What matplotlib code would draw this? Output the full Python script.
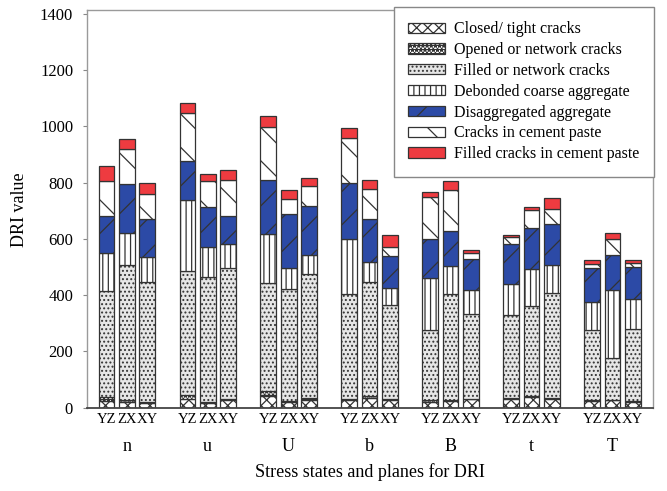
import numpy as np
import matplotlib
matplotlib.use("Agg")
import matplotlib.pyplot as plt

plt.rcParams['font.family'] = ['Liberation Serif', 'DejaVu Serif']
plt.rcParams['hatch.linewidth'] = 0.9

states = ["n", "u", "U", "b", "B", "t", "T"]
planes = ["YZ", "ZX", "XY"]

# values per bar, order: n YZ, n ZX, n XY, u YZ, ...
closed = [22, 20, 15, 30, 16, 26, 42, 18, 28, 26, 34, 28, 20, 22, 30, 32, 36, 32, 22, 26, 20]
opened = [16, 6, 5, 14, 4, 6, 16, 4, 6, 4, 6, 4, 6, 4, 2, 2, 4, 2, 4, 2, 2]
filled = [377, 480, 427, 442, 445, 466, 386, 398, 440, 373, 406, 332,
          249, 377, 302, 294, 320, 374, 249, 149, 259]
debonded = [135, 113, 89, 252, 107, 83, 173, 77, 67, 195, 70, 62,
            184, 101, 83, 113, 131, 98, 101, 240, 104]
disagg = [132, 176, 133, 138, 140, 101, 194, 190, 175, 201, 154, 112,
          139, 125, 113, 142, 147, 146, 121, 125, 115]
cracks = [124, 126, 90, 170, 94, 127, 188, 54, 73, 160, 109, 34,
          152, 144, 20, 22, 66, 54, 15, 57, 15]
filled_cp = [53, 34, 39, 38, 24, 37, 38, 32, 26, 36, 30, 41,
             15, 33, 10, 8, 10, 38, 12, 20, 9]

layers = [
    ("Closed/ tight cracks", closed, "white", "xxx"),
    ("Opened or network cracks", opened, "white", "****"),
    ("Filled or network cracks", filled, "#e6e6e6", "...."),
    ("Debonded coarse aggregate", debonded, "white", "|||"),
    ("Disaggregated aggregate", disagg, "#2c4aa6", "/"),
    ("Cracks in cement paste", cracks, "white", "\\"),
    ("Filled cracks in cement paste", filled_cp, "#ee3b40", ""),
]

x = []
for g in range(len(states)):
    for p in range(len(planes)):
        x.append(4 * g + p)
x = np.array(x)

fig = plt.figure(figsize=(6.67, 4.91), dpi=100)
ax = fig.add_axes([87 / 667, 1 - 407.5 / 491, (653 - 87) / 667, (407.5 - 10) / 491])

bottom = np.zeros(len(x))
for label, vals, fc, hatch in layers:
    ax.bar(x, vals, width=0.78, bottom=bottom, color=fc, edgecolor="#333333",
           linewidth=0.9, hatch=hatch, label=label)
    bottom += np.array(vals)

ax.set_xlim(-0.96, 27.0)
ax.set_ylim(0, 1414)
ax.set_yticks(range(0, 1401, 200))
ax.set_xticks(x)
ax.set_xticklabels(planes * len(states), fontsize=10.5)
ax.tick_params(axis='x', length=0, pad=4)
ax.tick_params(axis='y', length=3, width=0.8, color="#888888", pad=7, labelsize=12)

for s in ["left", "top", "right"]:
    ax.spines[s].set_color("#9a9a9a")
    ax.spines[s].set_linewidth(1.0)
ax.spines["bottom"].set_color("#444444")
ax.spines["bottom"].set_linewidth(1.3)

for g, st in enumerate(states):
    ax.text(4 * g + 1, -0.099, st, transform=ax.get_xaxis_transform(),
            ha='center', va='center', fontsize=13)

fig.text(370 / 667, 1 - 472 / 491, "Stress states and planes for DRI",
         ha='center', va='center', fontsize=13)
fig.text(20 / 667, 1 - 210 / 491, "DRI value", rotation=90,
         ha='center', va='center', fontsize=13)

leg = ax.legend(loc='upper right', bbox_to_anchor=(654 / 667, 1 - 7 / 491),
                bbox_transform=fig.transFigure, fontsize=11.5, fancybox=False,
                framealpha=1, edgecolor="#888888", handlelength=2.3,
                handleheight=0.6, handletextpad=0.6, labelspacing=0.3,
                borderpad=0.9, borderaxespad=0)
leg.get_frame().set_linewidth(1.0)

fig.savefig("out.png", dpi=100)
